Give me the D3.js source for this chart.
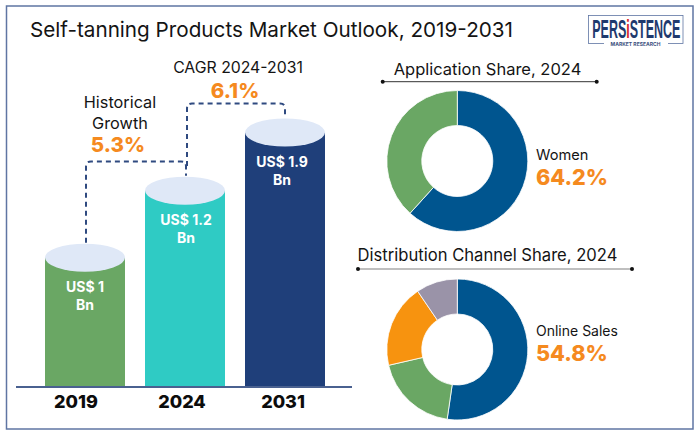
<!DOCTYPE html>
<meta charset="utf-8">
<style>
html,body{margin:0;background:#fff}
svg{display:block}
text{font-family:Inter,"Open Sans",sans-serif;fill:#141414}
</style>
<svg id="chart" width="700" height="435"></svg>
<script src="https://d3js.org/d3.v7.min.js"></script>
<script>
const years = ['2019', '2024', '2031']
const marketValues = [1, 1.2, 1.9]
const marketLabels = [['US$ 1', 'Bn'], ['US$ 1.2', 'Bn'], ['US$ 1.9', 'Bn']]
const barColors = ['#6aa764', '#2fcbc4', '#1f3f7a']

const applicationSlices = [61.7, 38.3]
const applicationColors = ['#00558f', '#6aa764']
const channelSlices = [52.3, 19.1, 19.1, 9.5]
const channelColors = ['#00558f', '#6aa764', '#f7930f', '#9a93a8']

const ORANGE = '#f58a1f'
const svg = d3.select('#chart')

function label(str, x, y, size, opts = {}) {
  return svg.append('text')
    .attr('x', x).attr('y', y)
    .attr('text-anchor', opts.anchor || 'middle')
    .style('font-size', size + 'px')
    .style('font-weight', opts.weight || 400)
    .style('fill', opts.fill || '#141414')
    .text(str)
}

// frame
svg.append('rect')
  .attr('x', 6.5).attr('y', 6).attr('width', 686.5).attr('height', 423)
  .attr('fill', 'none').attr('stroke', '#5f75a3').attr('stroke-width', 1.5)

label('Self-tanning Products Market Outlook, 2019-2031', 30, 37, 20.7, {anchor: 'start'})

// bars
const x = d3.scaleBand().domain(years).range([45, 325]).paddingInner(0.2)
// bars in the picture are not proportional, so the scale is piecewise
const y = d3.scaleLinear().domain(marketValues).range([257.7, 190.7, 132.5])
const baseY = 387
const mid = d => x(d) + x.bandwidth() / 2

const bars = svg.append('g').selectAll('g').data(years).join('g')
bars.append('rect')
  .attr('x', d => x(d))
  .attr('y', (d, i) => y(marketValues[i]))
  .attr('width', x.bandwidth())
  .attr('height', (d, i) => baseY - y(marketValues[i]))
  .attr('fill', (d, i) => barColors[i])
bars.append('ellipse')
  .attr('cx', d => mid(d))
  .attr('cy', (d, i) => y(marketValues[i]))
  .attr('rx', x.bandwidth() / 2)
  .attr('ry', 14)
  .attr('fill', '#dfe8f7')

// the labels sit a little off the bar centres in the original
const valueNudge = [0, 1, -3]
const tickNudge = [-9, -3, -2]

bars.each(function (d, i) {
  const top = y(marketValues[i])
  marketLabels[i].forEach((line, k) => {
    label(line, mid(d) + valueNudge[i], top + 34.5 + k * 18, 14, {weight: 700, fill: '#fff'})
  })
})

// axis
svg.append('line')
  .attr('x1', 16).attr('x2', 352).attr('y1', baseY).attr('y2', baseY)
  .attr('stroke', '#4a6190').attr('stroke-width', 2)
const axis = svg.append('g')
  .attr('transform', `translate(0,${baseY})`)
  .call(d3.axisBottom(x).tickSize(0).tickPadding(8))
axis.select('.domain').remove()
axis.selectAll('text')
  .attr('dx', (d, i) => tickNudge[i])
  .style('font-size', '18px').style('font-weight', 800).style('fill', '#0c0c0c')

// dashed growth connectors
const connector = (x0, y0, yTop, x1, y1) => {
  const r = 5
  return `M${x0},${y0}V${yTop + r}Q${x0},${yTop} ${x0 + r},${yTop}H${x1 - r}Q${x1},${yTop} ${x1},${yTop + r}V${y1}`
}
svg.append('path')
  .attr('d', connector(mid('2019') + 1, y(1) - 15, 161.5, mid('2024') + 1, y(1.2) - 15))
  .attr('fill', 'none').attr('stroke', '#2f4a80').attr('stroke-width', 2).attr('stroke-dasharray', '5 4')
svg.append('path')
  .attr('d', connector(mid('2024') + 2, 166, 103.5, mid('2031'), y(1.9) - 15))
  .attr('fill', 'none').attr('stroke', '#2f4a80').attr('stroke-width', 2).attr('stroke-dasharray', '5 4')

label('CAGR 2024-2031', 238, 73, 15.8)
label('6.1%', 235, 98, 20.5, {weight: 800, fill: ORANGE})
label('Historical', 120, 108, 16.3)
label('Growth', 120, 129, 16.3)
label('5.3%', 118, 152, 20.5, {weight: 800, fill: ORANGE})

// donuts
const arc = d3.arc().innerRadius(35.5).outerRadius(70.5)
const pie = d3.pie().sort(null)

function donut(values, colors, cy) {
  svg.append('g')
    .attr('transform', `translate(457.3,${cy})`)
    .selectAll('path').data(pie(values)).join('path')
    .attr('d', arc)
    .attr('fill', (d, i) => colors[i])
    .attr('stroke', '#fff').attr('stroke-width', 0.8)
}

function rule(x0, x1, yy, color, w) {
  svg.append('line')
    .attr('x1', x0).attr('x2', x1).attr('y1', yy).attr('y2', yy)
    .attr('stroke', color).attr('stroke-width', w)
  svg.selectAll(null).data([x0, x1]).enter().append('circle')
    .attr('cx', d => d).attr('cy', yy).attr('r', 2).attr('fill', '#111')
}

label('Application Share, 2024', 487.5, 75, 16.5)
rule(382.7, 596.7, 81.7, '#333', 1)
donut(applicationSlices, applicationColors, 161)
label('Women', 536, 160, 14.6, {anchor: 'start'})
label('64.2%', 536, 184.5, 21.6, {anchor: 'start', weight: 800, fill: ORANGE})

label('Distribution Channel Share, 2024', 487.5, 261, 16.6)
rule(358, 632, 269, '#aaa', 1.5)
donut(channelSlices, channelColors, 349.5)
label('Online Sales', 536, 336, 14, {anchor: 'start'})
label('54.8%', 536, 361, 21.6, {anchor: 'start', weight: 800, fill: ORANGE})

// logo
svg.append('rect')
  .attr('x', 588.5).attr('y', 15.5).attr('width', 94.5).attr('height', 28)
  .attr('fill', '#fff').attr('stroke', '#5f75a3').attr('stroke-width', 0.8)
svg.append('rect')
  .attr('x', 604).attr('y', 41).attr('width', 64).attr('height', 5).attr('fill', '#fff')
const logo = svg.append('text')
  .attr('transform', 'translate(636.3,38) scale(0.5,1)')
  .attr('text-anchor', 'middle')
  .style('font-family', '"Liberation Sans Narrow","Liberation Sans",sans-serif')
  .style('font-size', '25px')
  .style('font-weight', 700)
  .style('fill', '#1f3a6e')
logo.append('tspan').text('PERS')
logo.append('tspan').text('i').style('fill', '#d8262c')
logo.append('tspan').text('STENCE')
label('MARKET RESEARCH', 635.5, 46, 5, {weight: 700, fill: '#3a4f7d'})
</script>
